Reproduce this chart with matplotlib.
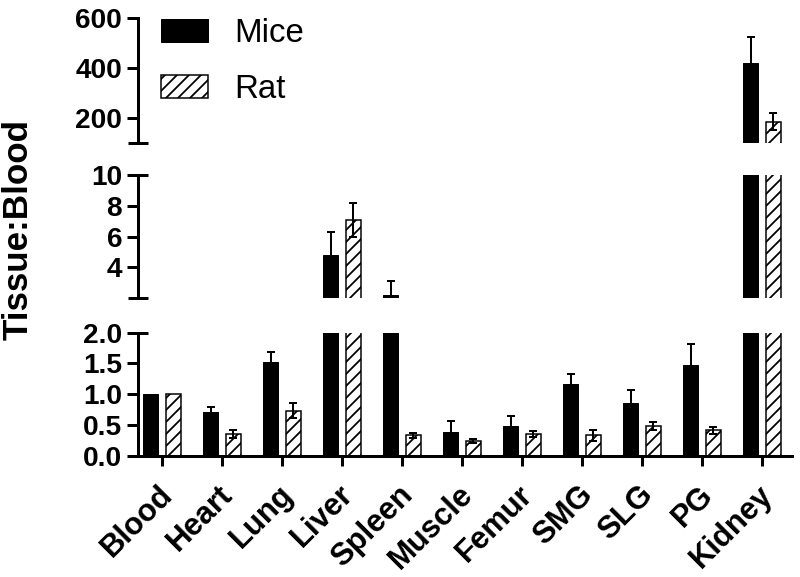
import matplotlib
matplotlib.use("Agg")
import matplotlib.pyplot as plt
import matplotlib.transforms as mtrans
import numpy as np
from matplotlib.patches import Patch

categories = ['Blood', 'Heart', 'Lung', 'Liver', 'Spleen', 'Muscle', 'Femur',
              'SMG', 'SLG', 'PG', 'Kidney']
mice = [1.0, 0.71, 1.52, 4.8, 2.2, 0.39, 0.48, 1.16, 0.85, 1.47, 422]
mice_err = [0, 0.08, 0.16, 1.5, 0.9, 0.18, 0.16, 0.17, 0.22, 0.34, 104]
rat = [1.0, 0.35, 0.73, 7.1, 0.33, 0.24, 0.35, 0.33, 0.48, 0.41, 186]
rat_err = [0, 0.06, 0.12, 1.1, 0.04, 0.03, 0.05, 0.09, 0.06, 0.06, 34]

seg_bottom = (0, 2.0, [0.0, 0.5, 1.0, 1.5, 2.0], ['0.0', '0.5', '1.0', '1.5', '2.0'])
seg_middle = (2.0, 10.0, [4, 6, 8, 10], ['4', '6', '8', '10'])
seg_top = (100, 600, [200, 400, 600], ['200', '400', '600'])

plt.rcParams['font.family'] = ['Liberation Sans', 'DejaVu Sans']
plt.rcParams['hatch.linewidth'] = 1.8

W, H = 800, 577
fig = plt.figure(figsize=(W / 72, H / 72), dpi=72)

left_px, right_px = 138, 792
panels = [  # (top_px, bottom_px, segment)
    (18.3, 143.3, seg_top),
    (175.0, 298.3, seg_middle),
    (332.7, 455.7, seg_bottom),
]

x = np.arange(len(categories))
bw = 0.25
off = 0.185
lw = 3

mice_a = np.array(mice, dtype=float)
rat_a = np.array(rat, dtype=float)
me = np.array(mice_err, dtype=float)
re = np.array(rat_err, dtype=float)
mm = me > 0
rm = re > 0

axes = []
for top_px, bot_px, seg in panels:
    ax = fig.add_axes([left_px / W, 1 - bot_px / H, (right_px - left_px) / W,
                       (bot_px - top_px) / H])
    lo, hi, ticks, labels = seg
    ax.bar(x - off, mice_a, bw, color='black', edgecolor='black', linewidth=1, zorder=2)
    ax.bar(x + off, rat_a, bw, color='white', edgecolor='black', hatch='//',
           linewidth=1.5, zorder=2)
    ax.errorbar((x - off)[mm], mice_a[mm], yerr=me[mm], fmt='none', ecolor='black',
                elinewidth=2, capsize=4, capthick=2, zorder=3)
    ax.errorbar((x + off)[rm], rat_a[rm], yerr=re[rm], fmt='none', ecolor='black',
                elinewidth=2, capsize=4, capthick=2, zorder=3)
    ax.set_ylim(lo, hi)
    ax.set_xlim(-0.4, 10.5)
    ax.set_yticks(ticks)
    ax.set_yticklabels(labels, fontsize=28, fontweight='bold')
    for s in ['top', 'right']:
        ax.spines[s].set_visible(False)
    ax.spines['left'].set_linewidth(lw)
    ax.tick_params(axis='y', width=lw, length=11, pad=5)
    ax.patch.set_visible(False)
    axes.append(ax)

ax_top, ax_mid, ax_bot = axes
for ax in (ax_top, ax_mid):
    ax.spines['bottom'].set_visible(False)
    ax.set_xticks([])

ax_bot.spines['bottom'].set_linewidth(lw)
ax_bot.set_xticks(x)
ax_bot.set_xticklabels(categories, rotation=45, ha='right', rotation_mode='anchor',
                       fontsize=31, fontweight='bold')
ax_bot.tick_params(axis='x', width=lw, length=10, pad=14)
shift = mtrans.ScaledTranslation(-4 / 72, 0, fig.dpi_scale_trans)
for lab in ax_bot.get_xticklabels():
    lab.set_transform(lab.get_transform() + shift)

# break caps on the y axis
dx = 10 / (right_px - left_px)
for ax, ys in ((ax_top, [0]), (ax_mid, [0, 1]), (ax_bot, [1])):
    for yy in ys:
        ax.plot([-dx, dx], [yy, yy], transform=ax.transAxes, color='black',
                linewidth=lw, clip_on=False, solid_capstyle='butt', zorder=5)

fig.text(18 / W, 1 - 230 / H, 'Tissue:Blood', rotation=90, ha='center', va='center',
         fontsize=35, fontweight='bold')

handles = [Patch(facecolor='black', edgecolor='black', label='Mice'),
           Patch(facecolor='white', edgecolor='black', hatch='//', linewidth=1.5,
                 label='Rat')]
fig.legend(handles=handles, loc='upper left', bbox_to_anchor=(161 / W, 1 - 18 / H),
           frameon=False, fontsize=33, handlelength=1.42, handleheight=0.67,
           handletextpad=0.8, labelspacing=0.76, borderpad=0, borderaxespad=0)

fig.savefig('out.png', dpi=72)
